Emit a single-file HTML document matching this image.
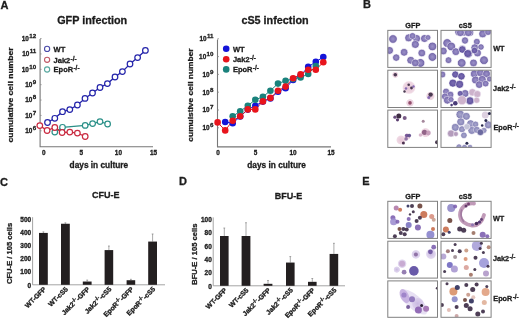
<!DOCTYPE html>
<html><head><meta charset="utf-8"><style>
html,body{margin:0;padding:0;background:#fff;}
body{width:520px;height:319px;overflow:hidden;}
svg{display:block;will-change:transform;}
text{font-family:"Liberation Sans",sans-serif;font-weight:bold;stroke:#1c1c1c;stroke-width:0.3px;}
</style></head><body>
<svg width="520" height="319" viewBox="0 0 520 319">
<defs>
<radialGradient id="gP" cx="50%" cy="50%" r="50%"><stop offset="0" stop-color="#9a90c8"/><stop offset="0.6" stop-color="#8478b6"/><stop offset="0.88" stop-color="#6c5fa4"/><stop offset="1" stop-color="#6c5fa4" stop-opacity="0.55"/></radialGradient>
<radialGradient id="gD" cx="50%" cy="50%" r="50%"><stop offset="0" stop-color="#7a6cb2"/><stop offset="0.6" stop-color="#6a5ca6"/><stop offset="0.88" stop-color="#564896"/><stop offset="1" stop-color="#564896" stop-opacity="0.55"/></radialGradient>
<radialGradient id="gB" cx="50%" cy="50%" r="50%"><stop offset="0" stop-color="#a8a6cc"/><stop offset="0.65" stop-color="#908ebe"/><stop offset="0.9" stop-color="#7a78ac"/><stop offset="1" stop-color="#7a78ac" stop-opacity="0.5"/></radialGradient>
<filter id="bl" x="-5%" y="-5%" width="110%" height="110%"><feGaussianBlur stdDeviation="0.55"/></filter>
<radialGradient id="gK" cx="50%" cy="50%" r="50%"><stop offset="0" stop-color="#e6c6d6"/><stop offset="0.8" stop-color="#e8c8d8" stop-opacity="0.7"/><stop offset="1" stop-color="#f0d8e4" stop-opacity="0"/></radialGradient>
<radialGradient id="gL" cx="50%" cy="50%" r="50%"><stop offset="0" stop-color="#c8b8e0"/><stop offset="0.8" stop-color="#d4c6e8" stop-opacity="0.7"/><stop offset="1" stop-color="#e4dcf0" stop-opacity="0"/></radialGradient>
</defs>
<text x="0.40" y="8.80" font-size="11" text-anchor="start" fill="#1c1c1c" >A</text>
<text x="363.10" y="8.20" font-size="11" text-anchor="start" fill="#1c1c1c" >B</text>
<text x="0.10" y="186.10" font-size="11" text-anchor="start" fill="#1c1c1c" >C</text>
<text x="179.00" y="184.70" font-size="11" text-anchor="start" fill="#1c1c1c" >D</text>
<text x="362.30" y="184.80" font-size="11" text-anchor="start" fill="#1c1c1c" >E</text>
<text x="57.20" y="24.00" font-size="10.8" text-anchor="start" fill="#1c1c1c" >GFP infection</text>
<path d="M40.1,39 V146.8 H153" fill="none" stroke="#777" stroke-width="1.1"/>
<text x="36.20" y="133.10" font-size="6.4" text-anchor="end" fill="#1c1c1c">10<tspan font-size="6.2" dy="-3.0" dx="0.4">6</tspan></text>
<path d="M40,130.80 h1.6" stroke="#8a8a8a" stroke-width="0.8"/>
<text x="36.20" y="117.73" font-size="6.4" text-anchor="end" fill="#1c1c1c">10<tspan font-size="6.2" dy="-3.0" dx="0.4">7</tspan></text>
<path d="M40,115.43 h1.6" stroke="#8a8a8a" stroke-width="0.8"/>
<text x="36.20" y="102.36" font-size="6.4" text-anchor="end" fill="#1c1c1c">10<tspan font-size="6.2" dy="-3.0" dx="0.4">8</tspan></text>
<path d="M40,100.06 h1.6" stroke="#8a8a8a" stroke-width="0.8"/>
<text x="36.20" y="86.99" font-size="6.4" text-anchor="end" fill="#1c1c1c">10<tspan font-size="6.2" dy="-3.0" dx="0.4">9</tspan></text>
<path d="M40,84.69 h1.6" stroke="#8a8a8a" stroke-width="0.8"/>
<text x="36.20" y="71.62" font-size="6.4" text-anchor="end" fill="#1c1c1c">10<tspan font-size="6.2" dy="-3.0" dx="0.4">10</tspan></text>
<path d="M40,69.32 h1.6" stroke="#8a8a8a" stroke-width="0.8"/>
<text x="36.20" y="56.25" font-size="6.4" text-anchor="end" fill="#1c1c1c">10<tspan font-size="6.2" dy="-3.0" dx="0.4">11</tspan></text>
<path d="M40,53.95 h1.6" stroke="#8a8a8a" stroke-width="0.8"/>
<text x="36.20" y="40.88" font-size="6.4" text-anchor="end" fill="#1c1c1c">10<tspan font-size="6.2" dy="-3.0" dx="0.4">12</tspan></text>
<path d="M40,38.58 h1.6" stroke="#8a8a8a" stroke-width="0.8"/>
<text x="43.90" y="154.80" font-size="6.4" text-anchor="middle" fill="#1c1c1c" >0</text>
<text x="81.40" y="154.80" font-size="6.4" text-anchor="middle" fill="#1c1c1c" >5</text>
<text x="118.40" y="154.80" font-size="6.4" text-anchor="middle" fill="#1c1c1c" >10</text>
<text x="153.60" y="154.80" font-size="6.4" text-anchor="middle" fill="#1c1c1c" >15</text>
<text x="69.60" y="168.00" font-size="8.3" text-anchor="start" fill="#1c1c1c" >days in culture</text>
<text transform="translate(13.4,95.0) rotate(-90) scale(1.02,0.9)" font-size="8.4" text-anchor="middle" fill="#1c1c1c">cumulative cell number</text>
<path d="M54.8,132.1 L62.5,127.3 L85.2,125.4 L92.6,123.6 L100.0,121.6 L107.6,124.0" fill="none" stroke="#2a9088" stroke-width="1.3"/>
<path d="M39.8,125.6 L47.1,130.5 L54.8,127.5 L62.1,132.5 L69.8,132.1 L77.4,133.1 L85.2,136.5" fill="none" stroke="#c92a40" stroke-width="1.3"/>
<path d="M47.5,122.5 L54.8,118.3 L62.5,111.7 L69.8,109.6 L77.4,105.0 L85.0,98.4 L92.5,93.0 L100.0,87.5 L107.4,83.6 L115.0,77.0 L122.4,71.6 L130.0,64.0 L137.6,57.6 L145.4,50.4" fill="none" stroke="#2424aa" stroke-width="1.3"/>
<circle cx="54.8" cy="132.1" r="2.8" fill="#fff" stroke="#2a9088" stroke-width="1.2"/>
<circle cx="62.5" cy="127.3" r="2.8" fill="#fff" stroke="#2a9088" stroke-width="1.2"/>
<circle cx="85.2" cy="125.4" r="2.8" fill="#fff" stroke="#2a9088" stroke-width="1.2"/>
<circle cx="92.6" cy="123.6" r="2.8" fill="#fff" stroke="#2a9088" stroke-width="1.2"/>
<circle cx="100.0" cy="121.6" r="2.8" fill="#fff" stroke="#2a9088" stroke-width="1.2"/>
<circle cx="107.6" cy="124.0" r="2.8" fill="#fff" stroke="#2a9088" stroke-width="1.2"/>
<circle cx="39.8" cy="125.6" r="2.8" fill="#fff" stroke="#c92a40" stroke-width="1.2"/>
<circle cx="47.1" cy="130.5" r="2.8" fill="#fff" stroke="#c92a40" stroke-width="1.2"/>
<circle cx="54.8" cy="127.5" r="2.8" fill="#fff" stroke="#c92a40" stroke-width="1.2"/>
<circle cx="62.1" cy="132.5" r="2.8" fill="#fff" stroke="#c92a40" stroke-width="1.2"/>
<circle cx="69.8" cy="132.1" r="2.8" fill="#fff" stroke="#c92a40" stroke-width="1.2"/>
<circle cx="77.4" cy="133.1" r="2.8" fill="#fff" stroke="#c92a40" stroke-width="1.2"/>
<circle cx="85.2" cy="136.5" r="2.8" fill="#fff" stroke="#c92a40" stroke-width="1.2"/>
<circle cx="47.5" cy="122.5" r="2.8" fill="#fff" stroke="#2424aa" stroke-width="1.2"/>
<circle cx="54.8" cy="118.3" r="2.8" fill="#fff" stroke="#2424aa" stroke-width="1.2"/>
<circle cx="62.5" cy="111.7" r="2.8" fill="#fff" stroke="#2424aa" stroke-width="1.2"/>
<circle cx="69.8" cy="109.6" r="2.8" fill="#fff" stroke="#2424aa" stroke-width="1.2"/>
<circle cx="77.4" cy="105.0" r="2.8" fill="#fff" stroke="#2424aa" stroke-width="1.2"/>
<circle cx="85.0" cy="98.4" r="2.8" fill="#fff" stroke="#2424aa" stroke-width="1.2"/>
<circle cx="92.5" cy="93.0" r="2.8" fill="#fff" stroke="#2424aa" stroke-width="1.2"/>
<circle cx="100.0" cy="87.5" r="2.8" fill="#fff" stroke="#2424aa" stroke-width="1.2"/>
<circle cx="107.4" cy="83.6" r="2.8" fill="#fff" stroke="#2424aa" stroke-width="1.2"/>
<circle cx="115.0" cy="77.0" r="2.8" fill="#fff" stroke="#2424aa" stroke-width="1.2"/>
<circle cx="122.4" cy="71.6" r="2.8" fill="#fff" stroke="#2424aa" stroke-width="1.2"/>
<circle cx="130.0" cy="64.0" r="2.8" fill="#fff" stroke="#2424aa" stroke-width="1.2"/>
<circle cx="137.6" cy="57.6" r="2.8" fill="#fff" stroke="#2424aa" stroke-width="1.2"/>
<circle cx="145.4" cy="50.4" r="2.8" fill="#fff" stroke="#2424aa" stroke-width="1.2"/>
<circle cx="47.1" cy="48.9" r="2.6" fill="#fff" stroke="#4a4aa8" stroke-width="1.1"/>
<text x="53.6" y="51.60" font-size="7.5" fill="#1c1c1c">WT</text>
<circle cx="47.1" cy="59.8" r="2.6" fill="#fff" stroke="#c05a68" stroke-width="1.1"/>
<text x="53.6" y="62.50" font-size="7.5" fill="#1c1c1c">Jak2<tspan font-size="6.4" dy="-1.9" dx="0.3">-/-</tspan></text>
<circle cx="47.1" cy="69.5" r="2.6" fill="#fff" stroke="#58a8a0" stroke-width="1.1"/>
<text x="53.6" y="72.20" font-size="7.5" fill="#1c1c1c">EpoR<tspan font-size="6.4" dy="-1.9" dx="0.3">-/-</tspan></text>
<text x="241.40" y="23.80" font-size="10.8" text-anchor="start" fill="#1c1c1c" >cS5 infection</text>
<path d="M217.5,39.4 V146.9 H331" fill="none" stroke="#777" stroke-width="1.1"/>
<text x="213.50" y="130.10" font-size="6.4" text-anchor="end" fill="#1c1c1c">10<tspan font-size="6.2" dy="-3.0" dx="0.4">6</tspan></text>
<path d="M217.4,127.80 h1.6" stroke="#8a8a8a" stroke-width="0.8"/>
<text x="213.50" y="112.30" font-size="6.4" text-anchor="end" fill="#1c1c1c">10<tspan font-size="6.2" dy="-3.0" dx="0.4">7</tspan></text>
<path d="M217.4,110.00 h1.6" stroke="#8a8a8a" stroke-width="0.8"/>
<text x="213.50" y="94.50" font-size="6.4" text-anchor="end" fill="#1c1c1c">10<tspan font-size="6.2" dy="-3.0" dx="0.4">8</tspan></text>
<path d="M217.4,92.20 h1.6" stroke="#8a8a8a" stroke-width="0.8"/>
<text x="213.50" y="76.70" font-size="6.4" text-anchor="end" fill="#1c1c1c">10<tspan font-size="6.2" dy="-3.0" dx="0.4">9</tspan></text>
<path d="M217.4,74.40 h1.6" stroke="#8a8a8a" stroke-width="0.8"/>
<text x="213.50" y="58.90" font-size="6.4" text-anchor="end" fill="#1c1c1c">10<tspan font-size="6.2" dy="-3.0" dx="0.4">10</tspan></text>
<path d="M217.4,56.60 h1.6" stroke="#8a8a8a" stroke-width="0.8"/>
<text x="213.50" y="41.10" font-size="6.4" text-anchor="end" fill="#1c1c1c">10<tspan font-size="6.2" dy="-3.0" dx="0.4">11</tspan></text>
<path d="M217.4,38.80 h1.6" stroke="#8a8a8a" stroke-width="0.8"/>
<text x="218.00" y="154.80" font-size="6.4" text-anchor="middle" fill="#1c1c1c" >0</text>
<text x="255.50" y="154.80" font-size="6.4" text-anchor="middle" fill="#1c1c1c" >5</text>
<text x="293.00" y="154.80" font-size="6.4" text-anchor="middle" fill="#1c1c1c" >10</text>
<text x="331.00" y="154.80" font-size="6.4" text-anchor="middle" fill="#1c1c1c" >15</text>
<text x="247.30" y="167.90" font-size="8.3" text-anchor="start" fill="#1c1c1c" >days in culture</text>
<text transform="translate(192.6,95.0) rotate(-90) scale(1.0,0.9)" font-size="8.4" text-anchor="middle" fill="#1c1c1c">cumulstive cell number</text>
<path d="M225.2,122.0 L232.7,123.2 L240.2,116.5 L247.8,109.6 L255.3,105.7 L262.9,101.6 L270.4,98.4 L278.0,91.7 L285.6,88.2 L293.1,80.0 L300.6,75.5 L308.2,66.9 L315.8,61.8 L323.3,57.0" fill="none" stroke="#1414d8" stroke-width="1.0"/>
<path d="M232.7,116.3 L240.2,111.3 L247.8,105.7 L255.3,99.8 L262.9,96.8 L270.4,90.7 L278.0,83.6 L285.6,80.7 L293.1,79.0 L300.6,77.5 L308.2,74.0 L315.8,66.0" fill="none" stroke="#1a827c" stroke-width="1.0"/>
<path d="M217.6,122.4 L225.2,130.4 L232.7,120.7 L240.2,116.3 L247.8,109.4 L255.3,109.4 L262.9,101.4 L270.4,97.9 L278.0,90.7 L285.6,86.6 L293.1,78.3 L300.6,74.4 L308.2,69.7 L315.8,69.7 L323.3,62.3" fill="none" stroke="#e8141c" stroke-width="1.0"/>
<circle cx="225.2" cy="122.0" r="3.3" fill="#1414d8"/>
<circle cx="232.7" cy="123.2" r="3.3" fill="#1414d8"/>
<circle cx="240.2" cy="116.5" r="3.3" fill="#1414d8"/>
<circle cx="247.8" cy="109.6" r="3.3" fill="#1414d8"/>
<circle cx="255.3" cy="105.7" r="3.3" fill="#1414d8"/>
<circle cx="262.9" cy="101.6" r="3.3" fill="#1414d8"/>
<circle cx="270.4" cy="98.4" r="3.3" fill="#1414d8"/>
<circle cx="278.0" cy="91.7" r="3.3" fill="#1414d8"/>
<circle cx="285.6" cy="88.2" r="3.3" fill="#1414d8"/>
<circle cx="293.1" cy="80.0" r="3.3" fill="#1414d8"/>
<circle cx="300.6" cy="75.5" r="3.3" fill="#1414d8"/>
<circle cx="308.2" cy="66.9" r="3.3" fill="#1414d8"/>
<circle cx="315.8" cy="61.8" r="3.3" fill="#1414d8"/>
<circle cx="323.3" cy="57.0" r="3.3" fill="#1414d8"/>
<circle cx="232.7" cy="116.3" r="3.3" fill="#1a827c"/>
<circle cx="240.2" cy="111.3" r="3.3" fill="#1a827c"/>
<circle cx="247.8" cy="105.7" r="3.3" fill="#1a827c"/>
<circle cx="255.3" cy="99.8" r="3.3" fill="#1a827c"/>
<circle cx="262.9" cy="96.8" r="3.3" fill="#1a827c"/>
<circle cx="270.4" cy="90.7" r="3.3" fill="#1a827c"/>
<circle cx="278.0" cy="83.6" r="3.3" fill="#1a827c"/>
<circle cx="285.6" cy="80.7" r="3.3" fill="#1a827c"/>
<circle cx="293.1" cy="79.0" r="3.3" fill="#1a827c"/>
<circle cx="300.6" cy="77.5" r="3.3" fill="#1a827c"/>
<circle cx="308.2" cy="74.0" r="3.3" fill="#1a827c"/>
<circle cx="315.8" cy="66.0" r="3.3" fill="#1a827c"/>
<circle cx="217.6" cy="122.4" r="3.3" fill="#e8141c"/>
<circle cx="225.2" cy="130.4" r="3.3" fill="#e8141c"/>
<circle cx="232.7" cy="120.7" r="3.3" fill="#e8141c"/>
<circle cx="240.2" cy="116.3" r="3.3" fill="#e8141c"/>
<circle cx="247.8" cy="109.4" r="3.3" fill="#e8141c"/>
<circle cx="255.3" cy="109.4" r="3.3" fill="#e8141c"/>
<circle cx="262.9" cy="101.4" r="3.3" fill="#e8141c"/>
<circle cx="270.4" cy="97.9" r="3.3" fill="#e8141c"/>
<circle cx="278.0" cy="90.7" r="3.3" fill="#e8141c"/>
<circle cx="285.6" cy="86.6" r="3.3" fill="#e8141c"/>
<circle cx="293.1" cy="78.3" r="3.3" fill="#e8141c"/>
<circle cx="300.6" cy="74.4" r="3.3" fill="#e8141c"/>
<circle cx="308.2" cy="69.7" r="3.3" fill="#e8141c"/>
<circle cx="315.8" cy="69.7" r="3.3" fill="#e8141c"/>
<circle cx="323.3" cy="62.3" r="3.3" fill="#e8141c"/>
<circle cx="226.2" cy="48.8" r="3.3" fill="#1414d8"/>
<text x="232.9" y="51.60" font-size="7.5" fill="#1c1c1c">WT</text>
<circle cx="226.2" cy="59.2" r="3.3" fill="#e8141c"/>
<text x="232.9" y="62.00" font-size="7.5" fill="#1c1c1c">Jak2<tspan font-size="6.4" dy="-1.9" dx="0.3">-/-</tspan></text>
<circle cx="226.2" cy="69.4" r="3.3" fill="#1a827c"/>
<text x="232.9" y="72.20" font-size="7.5" fill="#1c1c1c">EpoR<tspan font-size="6.4" dy="-1.9" dx="0.3">-/-</tspan></text>
<text x="92.00" y="197.60" font-size="9.0" text-anchor="start" fill="#1c1c1c" >CFU-E</text>
<path d="M32.6,217.2 V284.8 H165" fill="none" stroke="#9a9a9a" stroke-width="0.9"/>
<text x="31.20" y="287.50" font-size="6.5" text-anchor="end" fill="#1c1c1c" >0</text>
<text x="31.20" y="274.40" font-size="6.5" text-anchor="end" fill="#1c1c1c" >100</text>
<text x="31.20" y="261.30" font-size="6.5" text-anchor="end" fill="#1c1c1c" >200</text>
<text x="31.20" y="248.20" font-size="6.5" text-anchor="end" fill="#1c1c1c" >300</text>
<text x="31.20" y="235.10" font-size="6.5" text-anchor="end" fill="#1c1c1c" >400</text>
<text x="31.20" y="222.00" font-size="6.5" text-anchor="end" fill="#1c1c1c" >500</text>
<path d="M43.40,232.92 V231.88 M42.50,231.88 h1.8" stroke="#707070" stroke-width="0.6" fill="none"/>
<rect x="39.0" y="232.92" width="8.80" height="51.88" fill="#231f20"/>
<text transform="translate(46.40,289.70) rotate(-45)" font-size="6.8" text-anchor="end" fill="#1c1c1c">WT-GFP</text>
<path d="M65.40,223.75 V222.84 M64.50,222.84 h1.8" stroke="#707070" stroke-width="0.6" fill="none"/>
<rect x="61.0" y="223.75" width="8.80" height="61.05" fill="#231f20"/>
<text transform="translate(68.40,289.70) rotate(-45)" font-size="6.8" text-anchor="end" fill="#1c1c1c">WT-cS5</text>
<path d="M87.20,281.53 V280.08 M86.30,280.08 h1.8" stroke="#707070" stroke-width="0.6" fill="none"/>
<rect x="82.8" y="281.53" width="8.80" height="3.27" fill="#231f20"/>
<text transform="translate(90.20,289.70) rotate(-45)" font-size="6.8" text-anchor="end" fill="#1c1c1c">Jak2<tspan font-size="5.4" dy="-2.6">-/-</tspan><tspan dy="2.6">-</tspan>GFP</text>
<path d="M108.90,250.09 V246.02 M108.00,246.02 h1.8" stroke="#707070" stroke-width="0.6" fill="none"/>
<rect x="104.6" y="250.09" width="8.60" height="34.72" fill="#231f20"/>
<text transform="translate(111.90,289.70) rotate(-45)" font-size="6.8" text-anchor="end" fill="#1c1c1c">Jak2<tspan font-size="5.4" dy="-2.6">-/-</tspan><tspan dy="2.6">-</tspan>cS5</text>
<path d="M130.90,280.22 V279.30 M130.00,279.30 h1.8" stroke="#707070" stroke-width="0.6" fill="none"/>
<rect x="126.6" y="280.22" width="8.60" height="4.58" fill="#231f20"/>
<text transform="translate(133.90,289.70) rotate(-45)" font-size="6.8" text-anchor="end" fill="#1c1c1c">EpoR<tspan font-size="5.4" dy="-2.6">-/-</tspan><tspan dy="2.6">-</tspan>GFP</text>
<path d="M152.60,241.57 V233.97 M151.70,233.97 h1.8" stroke="#707070" stroke-width="0.6" fill="none"/>
<rect x="148.2" y="241.57" width="8.80" height="43.23" fill="#231f20"/>
<text transform="translate(155.60,289.70) rotate(-45)" font-size="6.8" text-anchor="end" fill="#1c1c1c">EpoR<tspan font-size="5.4" dy="-2.6">-/-</tspan><tspan dy="2.6">-</tspan>cS5</text>
<text transform="translate(12.4,253.4) rotate(-90) scale(1,0.92)" font-size="7.6" text-anchor="middle" fill="#1c1c1c">CFU-E / 105 cells</text>
<text x="274.80" y="199.00" font-size="9.0" text-anchor="start" fill="#1c1c1c" >BFU-E</text>
<path d="M213.2,217.4 V285.8 H345" fill="none" stroke="#9a9a9a" stroke-width="0.9"/>
<text x="211.80" y="288.50" font-size="6.5" text-anchor="end" fill="#1c1c1c" >0</text>
<text x="211.80" y="275.22" font-size="6.5" text-anchor="end" fill="#1c1c1c" >20</text>
<text x="211.80" y="261.94" font-size="6.5" text-anchor="end" fill="#1c1c1c" >40</text>
<text x="211.80" y="248.66" font-size="6.5" text-anchor="end" fill="#1c1c1c" >60</text>
<text x="211.80" y="235.38" font-size="6.5" text-anchor="end" fill="#1c1c1c" >80</text>
<text x="211.80" y="222.10" font-size="6.5" text-anchor="end" fill="#1c1c1c" >100</text>
<path d="M224.30,236.00 V228.03 M223.40,228.03 h1.8" stroke="#707070" stroke-width="0.6" fill="none"/>
<rect x="220.0" y="236.00" width="8.60" height="49.80" fill="#231f20"/>
<text transform="translate(227.30,290.70) rotate(-45)" font-size="6.8" text-anchor="end" fill="#1c1c1c">WT-GFP</text>
<path d="M246.00,236.00 V222.72 M245.10,222.72 h1.8" stroke="#707070" stroke-width="0.6" fill="none"/>
<rect x="241.6" y="236.00" width="8.80" height="49.80" fill="#231f20"/>
<text transform="translate(249.00,290.70) rotate(-45)" font-size="6.8" text-anchor="end" fill="#1c1c1c">WT-cS5</text>
<path d="M268.00,283.81 V280.49 M267.10,280.49 h1.8" stroke="#707070" stroke-width="0.6" fill="none"/>
<rect x="263.6" y="283.81" width="8.80" height="1.99" fill="#231f20"/>
<text transform="translate(271.00,290.70) rotate(-45)" font-size="6.8" text-anchor="end" fill="#1c1c1c">Jak2<tspan font-size="5.4" dy="-2.6">-/-</tspan><tspan dy="2.6">-</tspan>GFP</text>
<path d="M290.30,262.56 V256.58 M289.40,256.58 h1.8" stroke="#707070" stroke-width="0.6" fill="none"/>
<rect x="286.0" y="262.56" width="8.60" height="23.24" fill="#231f20"/>
<text transform="translate(293.30,290.70) rotate(-45)" font-size="6.8" text-anchor="end" fill="#1c1c1c">Jak2<tspan font-size="5.4" dy="-2.6">-/-</tspan><tspan dy="2.6">-</tspan>cS5</text>
<path d="M312.30,281.82 V278.50 M311.40,278.50 h1.8" stroke="#707070" stroke-width="0.6" fill="none"/>
<rect x="308.0" y="281.82" width="8.60" height="3.98" fill="#231f20"/>
<text transform="translate(315.30,290.70) rotate(-45)" font-size="6.8" text-anchor="end" fill="#1c1c1c">EpoR<tspan font-size="5.4" dy="-2.6">-/-</tspan><tspan dy="2.6">-</tspan>GFP</text>
<path d="M333.90,253.93 V243.30 M333.00,243.30 h1.8" stroke="#707070" stroke-width="0.6" fill="none"/>
<rect x="329.6" y="253.93" width="8.60" height="31.87" fill="#231f20"/>
<text transform="translate(336.90,290.70) rotate(-45)" font-size="6.8" text-anchor="end" fill="#1c1c1c">EpoR<tspan font-size="5.4" dy="-2.6">-/-</tspan><tspan dy="2.6">-</tspan>cS5</text>
<text transform="translate(196.9,254.2) rotate(-90) scale(1,0.92)" font-size="7.6" text-anchor="middle" fill="#1c1c1c">BFU-E / 105 cells</text>
<text x="405.30" y="28.00" font-size="7.3" text-anchor="start" fill="#1c1c1c" >GFP</text>
<text x="458.80" y="28.00" font-size="7.3" text-anchor="start" fill="#1c1c1c" >cS5</text>
<text x="493.20" y="50.80" font-size="7.3" text-anchor="start" fill="#1c1c1c" >WT</text>
<text x="493.1" y="90.6" font-size="7.3" fill="#1c1c1c">Jak2<tspan font-size="6.4" dy="-1.9" dx="0.3">-/-</tspan></text>
<text x="493.4" y="130.2" font-size="7.3" fill="#1c1c1c">EpoR<tspan font-size="6.4" dy="-1.9" dx="0.3">-/-</tspan></text>
<text x="405.30" y="199.10" font-size="7.3" text-anchor="start" fill="#1c1c1c" >GFP</text>
<text x="458.80" y="199.10" font-size="7.3" text-anchor="start" fill="#1c1c1c" >cS5</text>
<text x="492.90" y="221.30" font-size="7.3" text-anchor="start" fill="#1c1c1c" >WT</text>
<text x="492.9" y="261.1" font-size="7.3" fill="#1c1c1c">Jak2<tspan font-size="6.4" dy="-1.9" dx="0.3">-/-</tspan></text>
<text x="493.3" y="300.8" font-size="7.3" fill="#1c1c1c">EpoR<tspan font-size="6.4" dy="-1.9" dx="0.3">-/-</tspan></text>
<clipPath id="c1"><rect x="387.8" y="30.35" width="49.70" height="37.05"/></clipPath>
<rect x="387.8" y="30.35" width="49.70" height="37.05" fill="#ffffff"/>
<g clip-path="url(#c1)"><g filter="url(#bl)">
<circle cx="393.0" cy="39.0" r="4.15" fill="url(#gP)" opacity="1.0" stroke="#f4f0fa" stroke-width="0.55"/>
<circle cx="408.7" cy="37.9" r="3.85" fill="url(#gP)" opacity="1.0" stroke="#f4f0fa" stroke-width="0.55"/>
<circle cx="416.6" cy="38.5" r="3.85" fill="url(#gP)" opacity="1.0" stroke="#f4f0fa" stroke-width="0.55"/>
<circle cx="424.5" cy="38.5" r="3.85" fill="url(#gP)" opacity="1.0" stroke="#f4f0fa" stroke-width="0.55"/>
<circle cx="412.5" cy="36.0" r="3.25" fill="url(#gP)" opacity="1.0" stroke="#f4f0fa" stroke-width="0.55"/>
<circle cx="415.3" cy="44.4" r="3.85" fill="url(#gP)" opacity="1.0" stroke="#f4f0fa" stroke-width="0.55"/>
<circle cx="432.4" cy="46.4" r="4.25" fill="url(#gP)" opacity="1.0" stroke="#f4f0fa" stroke-width="0.55"/>
<circle cx="389.6" cy="50.4" r="3.75" fill="url(#gP)" opacity="1.0" stroke="#f4f0fa" stroke-width="0.55"/>
<circle cx="404.1" cy="52.3" r="3.75" fill="url(#gP)" opacity="1.0" stroke="#f4f0fa" stroke-width="0.55"/>
<circle cx="421.8" cy="53.0" r="3.75" fill="url(#gP)" opacity="1.0" stroke="#f4f0fa" stroke-width="0.55"/>
<circle cx="432.4" cy="56.9" r="4.25" fill="url(#gP)" opacity="1.0" stroke="#f4f0fa" stroke-width="0.55"/>
<circle cx="396.2" cy="57.6" r="3.55" fill="url(#gP)" opacity="1.0" stroke="#f4f0fa" stroke-width="0.55"/>
<circle cx="410.7" cy="60.2" r="3.75" fill="url(#gP)" opacity="1.0" stroke="#f4f0fa" stroke-width="0.55"/>
<circle cx="420.5" cy="62.9" r="4.25" fill="url(#gP)" opacity="1.0" stroke="#f4f0fa" stroke-width="0.55"/>
<circle cx="415.3" cy="62.9" r="3.75" fill="url(#gP)" opacity="1.0" stroke="#f4f0fa" stroke-width="0.55"/>
<circle cx="428.0" cy="37.5" r="2.75" fill="url(#gP)" opacity="1.0" stroke="#f4f0fa" stroke-width="0.55"/>
</g></g>
<rect x="387.8" y="30.35" width="49.70" height="37.05" fill="none" stroke="#808080" stroke-width="1"/>
<clipPath id="c2"><rect x="441.0" y="30.35" width="50.10" height="37.05"/></clipPath>
<rect x="441.0" y="30.35" width="50.10" height="37.05" fill="#ffffff"/>
<g clip-path="url(#c2)"><g filter="url(#bl)">
<circle cx="458.5" cy="32.0" r="3.65" fill="url(#gP)" opacity="1.0" stroke="#f4f0fa" stroke-width="0.55"/>
<circle cx="464.0" cy="32.3" r="3.65" fill="url(#gP)" opacity="1.0" stroke="#f4f0fa" stroke-width="0.55"/>
<circle cx="470.0" cy="32.6" r="3.65" fill="url(#gP)" opacity="1.0" stroke="#f4f0fa" stroke-width="0.55"/>
<circle cx="460.4" cy="32.6" r="3.85" fill="url(#gP)" opacity="1.0" stroke="#f4f0fa" stroke-width="0.55"/>
<circle cx="468.3" cy="32.6" r="3.85" fill="url(#gP)" opacity="1.0" stroke="#f4f0fa" stroke-width="0.55"/>
<circle cx="482.7" cy="33.9" r="3.85" fill="url(#gP)" opacity="1.0" stroke="#f4f0fa" stroke-width="0.55"/>
<circle cx="488.0" cy="32.0" r="3.25" fill="url(#gP)" opacity="1.0" stroke="#f4f0fa" stroke-width="0.55"/>
<circle cx="465.0" cy="40.5" r="3.45" fill="url(#gP)" opacity="1.0" stroke="#f4f0fa" stroke-width="0.55"/>
<circle cx="476.8" cy="41.8" r="3.25" fill="url(#gP)" opacity="1.0" stroke="#f4f0fa" stroke-width="0.55"/>
<circle cx="447.2" cy="43.1" r="4.25" fill="url(#gP)" opacity="1.0" stroke="#f4f0fa" stroke-width="0.55"/>
<circle cx="451.2" cy="46.4" r="4.25" fill="url(#gP)" opacity="1.0" stroke="#f4f0fa" stroke-width="0.55"/>
<circle cx="443.3" cy="51.0" r="3.75" fill="url(#gP)" opacity="1.0" stroke="#f4f0fa" stroke-width="0.55"/>
<circle cx="455.8" cy="51.7" r="3.75" fill="url(#gP)" opacity="1.0" stroke="#f4f0fa" stroke-width="0.55"/>
<circle cx="462.3" cy="49.0" r="3.75" fill="url(#gP)" opacity="1.0" stroke="#f4f0fa" stroke-width="0.55"/>
<circle cx="468.3" cy="53.7" r="4.25" fill="url(#gP)" opacity="1.0" stroke="#f4f0fa" stroke-width="0.55"/>
<circle cx="474.8" cy="47.7" r="3.75" fill="url(#gP)" opacity="1.0" stroke="#f4f0fa" stroke-width="0.55"/>
<circle cx="477.5" cy="53.0" r="3.75" fill="url(#gP)" opacity="1.0" stroke="#f4f0fa" stroke-width="0.55"/>
<circle cx="448.5" cy="60.2" r="3.25" fill="url(#gP)" opacity="1.0" stroke="#f4f0fa" stroke-width="0.55"/>
<circle cx="461.7" cy="62.9" r="4.25" fill="url(#gP)" opacity="1.0" stroke="#f4f0fa" stroke-width="0.55"/>
<circle cx="473.5" cy="62.9" r="3.75" fill="url(#gP)" opacity="1.0" stroke="#f4f0fa" stroke-width="0.55"/>
<circle cx="484.0" cy="60.2" r="4.25" fill="url(#gP)" opacity="1.0" stroke="#f4f0fa" stroke-width="0.55"/>
<circle cx="481" cy="47" r="3.05" fill="url(#gP)" opacity="1.0" stroke="#f4f0fa" stroke-width="0.55"/>
<circle cx="462.3" cy="49.5" r="3.6" fill="url(#gD)" opacity="1.0" stroke="#f4f0fa" stroke-width="0.55"/>
<circle cx="467.8" cy="53.6" r="3.9" fill="url(#gD)" opacity="1.0" stroke="#f4f0fa" stroke-width="0.55"/>
<circle cx="474.5" cy="50.5" r="3.2" fill="url(#gD)" opacity="1.0" stroke="#f4f0fa" stroke-width="0.55"/>
</g></g>
<rect x="441.0" y="30.35" width="50.10" height="37.05" fill="none" stroke="#808080" stroke-width="1"/>
<clipPath id="c3"><rect x="387.8" y="70.2" width="49.70" height="37.30"/></clipPath>
<rect x="387.8" y="70.2" width="49.70" height="37.30" fill="#ffffff"/>
<g clip-path="url(#c3)"><g filter="url(#bl)">
<circle cx="395.3" cy="74.8" r="3.4" fill="url(#gK)" opacity="1.0"/>
<circle cx="409.0" cy="87.5" r="7.0" fill="url(#gK)" opacity="1.0"/>
<circle cx="430.4" cy="96.0" r="4.6" fill="url(#gK)" opacity="1.0"/>
<circle cx="410.0" cy="102.9" r="4.2" fill="url(#gK)" opacity="1.0"/>
<circle cx="395.3" cy="74.8" r="1.8" fill="#3a2a44" opacity="0.9"/>
<circle cx="408.7" cy="84.8" r="1.3" fill="#3a2a44" opacity="0.9"/>
<circle cx="406.0" cy="88.5" r="1.3" fill="#7e62b0" opacity="0.9"/>
<circle cx="411.5" cy="88.0" r="1.4" fill="#3a2a44" opacity="0.9"/>
<circle cx="413.5" cy="86.5" r="1.2" fill="#7e62b0" opacity="0.9"/>
<circle cx="404.5" cy="91.5" r="1.2" fill="#3a2a44" opacity="0.9"/>
<circle cx="430.6" cy="94.6" r="2.2" fill="#3a2a44" opacity="0.9"/>
<circle cx="428.8" cy="97.5" r="1.5" fill="#7e62b0" opacity="0.9"/>
<circle cx="410.0" cy="102.9" r="1.8" fill="#8a4060" opacity="0.9"/>
</g></g>
<rect x="387.8" y="70.2" width="49.70" height="37.30" fill="none" stroke="#808080" stroke-width="1"/>
<clipPath id="c4"><rect x="441.0" y="70.2" width="50.10" height="37.30"/></clipPath>
<rect x="441.0" y="70.2" width="50.10" height="37.30" fill="#ffffff"/>
<g clip-path="url(#c4)"><g filter="url(#bl)">
<circle cx="442.4" cy="74.5" r="3.25" fill="url(#gP)" opacity="1.0" stroke="#f4f0fa" stroke-width="0.55"/>
<circle cx="474.3" cy="73.9" r="3.85" fill="url(#gP)" opacity="1.0" stroke="#f4f0fa" stroke-width="0.55"/>
<circle cx="480.4" cy="72.7" r="3.85" fill="url(#gP)" opacity="1.0" stroke="#f4f0fa" stroke-width="0.55"/>
<circle cx="486.5" cy="73.9" r="3.85" fill="url(#gP)" opacity="1.0" stroke="#f4f0fa" stroke-width="0.55"/>
<circle cx="475.5" cy="80.0" r="3.85" fill="url(#gP)" opacity="1.0" stroke="#f4f0fa" stroke-width="0.55"/>
<circle cx="482.2" cy="79.4" r="3.85" fill="url(#gP)" opacity="1.0" stroke="#f4f0fa" stroke-width="0.55"/>
<circle cx="479.2" cy="84.6" r="3.65" fill="url(#gP)" opacity="1.0" stroke="#f4f0fa" stroke-width="0.55"/>
<circle cx="485.6" cy="83.6" r="3.25" fill="url(#gP)" opacity="1.0" stroke="#f4f0fa" stroke-width="0.55"/>
<circle cx="489.5" cy="79.0" r="2.85" fill="url(#gP)" opacity="1.0" stroke="#f4f0fa" stroke-width="0.55"/>
<circle cx="446.1" cy="91.6" r="3.35" fill="url(#gP)" opacity="1.0" stroke="#f4f0fa" stroke-width="0.55"/>
<circle cx="450.4" cy="94.7" r="3.35" fill="url(#gP)" opacity="1.0" stroke="#f4f0fa" stroke-width="0.55"/>
<circle cx="444.9" cy="96.5" r="3.35" fill="url(#gP)" opacity="1.0" stroke="#f4f0fa" stroke-width="0.55"/>
<circle cx="447.3" cy="100.2" r="3.75" fill="url(#gP)" opacity="1.0" stroke="#f4f0fa" stroke-width="0.55"/>
<circle cx="451.0" cy="99.5" r="2.85" fill="url(#gP)" opacity="1.0" stroke="#f4f0fa" stroke-width="0.55"/>
<circle cx="465.1" cy="93.5" r="3.75" fill="url(#gP)" opacity="1.0" stroke="#f4f0fa" stroke-width="0.55"/>
<circle cx="470.0" cy="100.8" r="4.25" fill="url(#gP)" opacity="1.0" stroke="#f4f0fa" stroke-width="0.55"/>
<circle cx="455.3" cy="74.5" r="3.45" fill="url(#gD)" opacity="1.0" stroke="#f4f0fa" stroke-width="0.55"/>
<circle cx="461.4" cy="76.3" r="3.65" fill="url(#gD)" opacity="1.0" stroke="#f4f0fa" stroke-width="0.55"/>
<circle cx="452.9" cy="83.1" r="3.95" fill="url(#gD)" opacity="1.0" stroke="#f4f0fa" stroke-width="0.55"/>
<circle cx="459.6" cy="84.3" r="3.95" fill="url(#gD)" opacity="1.0" stroke="#f4f0fa" stroke-width="0.55"/>
<circle cx="460.2" cy="93.5" r="2.85" fill="url(#gD)" opacity="1.0" stroke="#f4f0fa" stroke-width="0.55"/>
<circle cx="470.0" cy="100.8" r="3.85" fill="url(#gD)" opacity="1.0" stroke="#f4f0fa" stroke-width="0.55"/>
<circle cx="472.4" cy="92.3" r="3.6" fill="#cdb2cc" opacity="1.0" stroke="#f4f0fa" stroke-width="0.55"/>
<circle cx="477.3" cy="94.1" r="3.5" fill="#cdb2cc" opacity="1.0" stroke="#f4f0fa" stroke-width="0.55"/>
<circle cx="462.0" cy="100.2" r="4.5" fill="#cdb2cc" opacity="1.0" stroke="#f4f0fa" stroke-width="0.55"/>
<circle cx="476.7" cy="100.2" r="3.0" fill="#cdb2cc" opacity="1.0" stroke="#f4f0fa" stroke-width="0.55"/>
<circle cx="455.3" cy="103.3" r="2.3" fill="#4a3a78" opacity="1.0"/>
<circle cx="451.6" cy="105.1" r="1.3" fill="#4a3a78" opacity="1.0"/>
</g></g>
<rect x="441.0" y="70.2" width="50.10" height="37.30" fill="none" stroke="#808080" stroke-width="1"/>
<clipPath id="c5"><rect x="387.8" y="110.1" width="49.70" height="37.30"/></clipPath>
<rect x="387.8" y="110.1" width="49.70" height="37.30" fill="#ffffff"/>
<g clip-path="url(#c5)"><g filter="url(#bl)">
<circle cx="425.5" cy="132.6" r="5.0" fill="url(#gK)" opacity="1.0"/>
<circle cx="401.0" cy="140.0" r="5.0" fill="url(#gK)" opacity="1.0"/>
<circle cx="407.5" cy="136.5" r="3.5" fill="url(#gK)" opacity="1.0"/>
<circle cx="398.8" cy="115.9" r="2.5" fill="#2a1430" opacity="0.9"/>
<circle cx="394.9" cy="117.2" r="1.6" fill="#5a3a70" opacity="0.9"/>
<circle cx="397.5" cy="119.8" r="1.6" fill="#4a2a60" opacity="0.9"/>
<circle cx="404.7" cy="117.9" r="2.0" fill="#6a4a7a" opacity="0.9"/>
<circle cx="423.2" cy="121.2" r="1.5" fill="#9a7a90" opacity="0.9"/>
<circle cx="424.5" cy="132.3" r="2.6" fill="#8a5a80" opacity="0.9"/>
<circle cx="428.4" cy="133.0" r="2.4" fill="#c49ab8" opacity="0.9"/>
<circle cx="420.5" cy="135.0" r="1.8" fill="#d4b0c8" opacity="0.9"/>
<circle cx="406.7" cy="135.6" r="1.8" fill="#6a4a90" opacity="0.9"/>
<circle cx="409.3" cy="135.6" r="1.8" fill="#5a4a8a" opacity="0.9"/>
<circle cx="406.1" cy="138.9" r="1.8" fill="#8a6aa0" opacity="0.9"/>
<circle cx="403.4" cy="142.9" r="1.5" fill="#3a2040" opacity="0.9"/>
<circle cx="437.0" cy="142.2" r="2.0" fill="#3a2a40" opacity="0.9"/>
</g></g>
<rect x="387.8" y="110.1" width="49.70" height="37.30" fill="none" stroke="#808080" stroke-width="1"/>
<clipPath id="c6"><rect x="441.0" y="110.1" width="50.10" height="37.30"/></clipPath>
<rect x="441.0" y="110.1" width="50.10" height="37.30" fill="#ffffff"/>
<g clip-path="url(#c6)"><g filter="url(#bl)">
<circle cx="460.2" cy="114.5" r="4.1" fill="url(#gB)" opacity="1.0" stroke="#f4f0fa" stroke-width="0.55"/>
<circle cx="466.3" cy="116.3" r="3.8" fill="url(#gB)" opacity="1.0" stroke="#f4f0fa" stroke-width="0.55"/>
<circle cx="460.8" cy="121.9" r="3.9" fill="url(#gB)" opacity="1.0" stroke="#f4f0fa" stroke-width="0.55"/>
<circle cx="455.3" cy="127.4" r="3.8" fill="url(#gB)" opacity="1.0" stroke="#f4f0fa" stroke-width="0.55"/>
<circle cx="462.0" cy="129.2" r="3.3" fill="url(#gB)" opacity="1.0" stroke="#f4f0fa" stroke-width="0.55"/>
<circle cx="470.6" cy="123.7" r="3.8" fill="url(#gB)" opacity="1.0" stroke="#f4f0fa" stroke-width="0.55"/>
<circle cx="475.5" cy="124.3" r="3.0999999999999996" fill="url(#gB)" opacity="1.0" stroke="#f4f0fa" stroke-width="0.55"/>
<circle cx="471.8" cy="130.4" r="3.8" fill="url(#gB)" opacity="1.0" stroke="#f4f0fa" stroke-width="0.55"/>
<circle cx="476.7" cy="129.8" r="3.3" fill="url(#gB)" opacity="1.0" stroke="#f4f0fa" stroke-width="0.55"/>
<circle cx="484.0" cy="130.4" r="2.8" fill="url(#gB)" opacity="1.0" stroke="#f4f0fa" stroke-width="0.55"/>
<circle cx="488.3" cy="124.9" r="3.8" fill="url(#gB)" opacity="1.0" stroke="#f4f0fa" stroke-width="0.55"/>
<circle cx="463.9" cy="135.3" r="3.0999999999999996" fill="url(#gB)" opacity="1.0" stroke="#f4f0fa" stroke-width="0.55"/>
<circle cx="459.0" cy="147.0" r="2.9" fill="url(#gB)" opacity="1.0" stroke="#f4f0fa" stroke-width="0.55"/>
<circle cx="464.5" cy="147.2" r="2.6999999999999997" fill="url(#gB)" opacity="1.0" stroke="#f4f0fa" stroke-width="0.55"/>
<circle cx="470.0" cy="147.0" r="2.5" fill="url(#gB)" opacity="1.0" stroke="#f4f0fa" stroke-width="0.55"/>
<circle cx="480.4" cy="132.3" r="3.3" fill="#6c6aa0" opacity="1.0" stroke="#f4f0fa" stroke-width="0.55"/>
<circle cx="466.9" cy="126.7" r="3.0" fill="#c4c4d8" opacity="1.0" stroke="#f4f0fa" stroke-width="0.55"/>
<circle cx="451.0" cy="133.5" r="3.5" fill="#b49cbc" opacity="1.0" stroke="#f4f0fa" stroke-width="0.55"/>
<circle cx="455.9" cy="134.0" r="2.4" fill="#b49cbc" opacity="1.0" stroke="#f4f0fa" stroke-width="0.55"/>
<circle cx="485.3" cy="115.1" r="3.5" fill="#ddd0e0" opacity="1.0"/>
<circle cx="485.9" cy="120.6" r="1.5" fill="#2c2c50" opacity="1.0"/>
<circle cx="482.2" cy="125.5" r="1.3" fill="#2c2c50" opacity="1.0"/>
<circle cx="466.9" cy="143.3" r="1.5" fill="#2c2c50" opacity="1.0"/>
<circle cx="489.5" cy="113.5" r="1.6" fill="#2c2c50" opacity="1.0"/>
</g></g>
<rect x="441.0" y="110.1" width="50.10" height="37.30" fill="none" stroke="#808080" stroke-width="1"/>
<clipPath id="c7"><rect x="387.8" y="201.3" width="49.70" height="37.10"/></clipPath>
<rect x="387.8" y="201.3" width="49.70" height="37.10" fill="#ffffff"/>
<g clip-path="url(#c7)"><g filter="url(#bl)">
<circle cx="396.2" cy="207.9" r="2.5" fill="#b07aa8" opacity="0.9"/>
<circle cx="400.1" cy="209.8" r="2.0" fill="#c86e4c" opacity="0.9"/>
<circle cx="408.0" cy="205.9" r="1.5" fill="#2c2c5a" opacity="0.9"/>
<circle cx="412.0" cy="205.9" r="2.0" fill="#3a2a44" opacity="0.9"/>
<circle cx="419.9" cy="205.9" r="2.5" fill="#6a4036" opacity="0.9"/>
<circle cx="413.3" cy="211.8" r="1.5" fill="#3a2a44" opacity="0.9"/>
<circle cx="423.8" cy="214.4" r="3.5" fill="#c86e4c" opacity="0.9"/>
<circle cx="431.7" cy="216.4" r="2.5" fill="#d89080" opacity="0.9"/>
<circle cx="433.7" cy="219.7" r="2.0" fill="#c8a090" opacity="0.9"/>
<circle cx="410.0" cy="214.4" r="1.2" fill="#3a2a44" opacity="0.9"/>
<circle cx="392.9" cy="217.7" r="2.5" fill="#7e62b0" opacity="0.9"/>
<circle cx="393.6" cy="221.7" r="3.5" fill="#a090d0" opacity="0.9"/>
<circle cx="397.5" cy="221.7" r="2.0" fill="#7e62b0" opacity="0.9"/>
<circle cx="408.7" cy="219.0" r="2.0" fill="#7e62b0" opacity="0.9"/>
<circle cx="416.6" cy="221.0" r="2.0" fill="#3a2a44" opacity="0.9"/>
<circle cx="419.9" cy="217.7" r="2.0" fill="#3a2a44" opacity="0.9"/>
<circle cx="408.7" cy="225.0" r="3.0" fill="#7c74c0" opacity="0.9"/>
<circle cx="403.4" cy="228.9" r="2.0" fill="#3a2a44" opacity="0.9"/>
<circle cx="406.7" cy="229.6" r="2.0" fill="#3a2a44" opacity="0.9"/>
<circle cx="399.5" cy="228.9" r="2.0" fill="#6a4036" opacity="0.9"/>
<circle cx="417.9" cy="227.6" r="3.0" fill="#7e62b0" opacity="0.9"/>
<circle cx="433.0" cy="228.9" r="2.0" fill="#c86e4c" opacity="0.9"/>
<circle cx="400.8" cy="232.9" r="2.0" fill="#3a2a44" opacity="0.9"/>
<circle cx="404.7" cy="234.2" r="2.0" fill="#3a2a44" opacity="0.9"/>
<circle cx="394.9" cy="236.2" r="2.0" fill="#3a2a44" opacity="0.9"/>
<circle cx="430.4" cy="234.8" r="4.0" fill="#8a84cc" opacity="0.9"/>
</g></g>
<rect x="387.8" y="201.3" width="49.70" height="37.10" fill="none" stroke="#808080" stroke-width="1"/>
<clipPath id="c8"><rect x="441.0" y="201.3" width="50.10" height="37.10"/></clipPath>
<rect x="441.0" y="201.3" width="50.10" height="37.10" fill="#ffffff"/>
<g clip-path="url(#c8)"><g filter="url(#bl)">
<path d="M474,203.5 C466,202.5 460,208 460,215 C460,221 466,225 472,225.5 C478,226 482,222 484,215" fill="none" stroke="#c09ab8" stroke-width="3.8" stroke-linecap="round"/>
<path d="M461.5,210 C460.5,214 461,218 463.5,221.5" fill="none" stroke="#a07aa0" stroke-width="1.6" stroke-linecap="round"/>
<circle cx="451.2" cy="207.9" r="4.0" fill="#9088c8" opacity="0.9"/>
<circle cx="455.1" cy="206.6" r="2.0" fill="#7e62b0" opacity="0.9"/>
<circle cx="466.0" cy="206.0" r="1.5" fill="#5a3060" opacity="0.9"/>
<circle cx="468.5" cy="204.0" r="1.5" fill="#6a3a6a" opacity="0.9"/>
<circle cx="476.5" cy="223.5" r="1.8" fill="#3a2050" opacity="0.9"/>
<circle cx="479.5" cy="222.0" r="1.6" fill="#4a3070" opacity="0.9"/>
<circle cx="472.5" cy="224.8" r="1.5" fill="#8a70b0" opacity="0.9"/>
<circle cx="481.5" cy="219.5" r="1.4" fill="#5a3a70" opacity="0.9"/>
<circle cx="449.8" cy="220.4" r="2.5" fill="#6a4036" opacity="0.9"/>
<circle cx="445.9" cy="229.6" r="3.0" fill="#c86e4c" opacity="0.9"/>
<circle cx="449.2" cy="232.2" r="1.5" fill="#2c2c5a" opacity="0.9"/>
<circle cx="459.7" cy="228.9" r="2.5" fill="#3a2a44" opacity="0.9"/>
<circle cx="463.7" cy="230.2" r="2.5" fill="#3a2a44" opacity="0.9"/>
<circle cx="473.5" cy="232.9" r="2.0" fill="#9a7060" opacity="0.9"/>
<circle cx="443.3" cy="234.2" r="2.0" fill="#3a2a44" opacity="0.9"/>
<circle cx="482.7" cy="234.8" r="3.0" fill="#7e62b0" opacity="0.9"/>
<circle cx="487.3" cy="236.2" r="2.0" fill="#7e62b0" opacity="0.9"/>
</g></g>
<rect x="441.0" y="201.3" width="50.10" height="37.10" fill="none" stroke="#808080" stroke-width="1"/>
<clipPath id="c9"><rect x="387.8" y="241.2" width="49.70" height="36.90"/></clipPath>
<rect x="387.8" y="241.2" width="49.70" height="36.90" fill="#ffffff"/>
<g clip-path="url(#c9)"><g filter="url(#bl)">
<circle cx="415.9" cy="254.4" r="4.8" fill="url(#gL)" opacity="1.0"/>
<circle cx="431.0" cy="254.0" r="5.5" fill="url(#gL)" opacity="1.0"/>
<circle cx="402.1" cy="263.7" r="4.8" fill="url(#gL)" opacity="1.0"/>
<circle cx="396.8" cy="269.6" r="3.5" fill="url(#gL)" opacity="1.0"/>
<circle cx="415.9" cy="254.6" r="2.0" fill="#8a6aa0" opacity="0.9"/>
<circle cx="433.7" cy="247.2" r="2.4" fill="#7e62b0" opacity="0.9"/>
<circle cx="430.4" cy="251.8" r="2.4" fill="#6a50a0" opacity="0.9"/>
<circle cx="404.1" cy="272.2" r="2.4" fill="#8a70a8" opacity="0.9"/>
<circle cx="413.9" cy="270.9" r="4.8" fill="#5a48a0" opacity="0.9"/>
<circle cx="402.1" cy="263.7" r="3.0" fill="#c8a8d0" opacity="0.9"/>
</g></g>
<rect x="387.8" y="241.2" width="49.70" height="36.90" fill="none" stroke="#808080" stroke-width="1"/>
<clipPath id="c10"><rect x="441.0" y="241.2" width="50.10" height="36.90"/></clipPath>
<rect x="441.0" y="241.2" width="50.10" height="36.90" fill="#ffffff"/>
<g clip-path="url(#c10)"><g filter="url(#bl)">
<circle cx="476.8" cy="245.9" r="5.0" fill="#a8a0d8" opacity="0.9"/>
<circle cx="484.0" cy="263.0" r="5.0" fill="#9c98d8" opacity="0.9"/>
<circle cx="455.1" cy="244.6" r="1.5" fill="#3a2a44" opacity="0.9"/>
<circle cx="452.5" cy="250.5" r="1.5" fill="#3a2a44" opacity="0.9"/>
<circle cx="447.9" cy="251.2" r="2.0" fill="#9a7070" opacity="0.9"/>
<circle cx="459.7" cy="251.2" r="2.0" fill="#3a2a44" opacity="0.9"/>
<circle cx="466.3" cy="250.5" r="2.0" fill="#c89880" opacity="0.9"/>
<circle cx="481.4" cy="243.3" r="1.5" fill="#3a2a44" opacity="0.9"/>
<circle cx="480.1" cy="248.5" r="1.5" fill="#3a2a44" opacity="0.9"/>
<circle cx="488.7" cy="247.2" r="2.0" fill="#b08070" opacity="0.9"/>
<circle cx="483.4" cy="252.5" r="1.5" fill="#3a2a44" opacity="0.9"/>
<circle cx="443.3" cy="256.4" r="3.0" fill="#b0a0d0" opacity="0.9"/>
<circle cx="455.1" cy="257.1" r="2.0" fill="#9a8a90" opacity="0.9"/>
<circle cx="465.6" cy="259.1" r="2.0" fill="#d89070" opacity="0.9"/>
<circle cx="475.5" cy="257.7" r="2.0" fill="#3a2a44" opacity="0.9"/>
<circle cx="488.0" cy="266.3" r="1.5" fill="#3a2a44" opacity="0.9"/>
<circle cx="449.8" cy="265.0" r="3.0" fill="#7068c0" opacity="0.9"/>
<circle cx="454.4" cy="268.9" r="3.5" fill="#a898d0" opacity="0.9"/>
<circle cx="466.3" cy="267.6" r="2.5" fill="#d8a098" opacity="0.9"/>
<circle cx="474.8" cy="269.6" r="1.5" fill="#3a2a44" opacity="0.9"/>
<circle cx="444.6" cy="271.6" r="1.5" fill="#3a2a44" opacity="0.9"/>
<circle cx="470.9" cy="274.8" r="2.0" fill="#a07060" opacity="0.9"/>
<circle cx="486.0" cy="273.5" r="3.0" fill="#b098c8" opacity="0.9"/>
</g></g>
<rect x="441.0" y="241.2" width="50.10" height="36.90" fill="none" stroke="#808080" stroke-width="1"/>
<clipPath id="c11"><rect x="387.8" y="280.9" width="49.70" height="36.40"/></clipPath>
<rect x="387.8" y="280.9" width="49.70" height="36.40" fill="#ffffff"/>
<g clip-path="url(#c11)"><g filter="url(#bl)">
<ellipse cx="414" cy="302" rx="7" ry="17" transform="rotate(-48 414 302)" fill="#e6def2" opacity="0.95"/>
<ellipse cx="404.5" cy="296" rx="4.2" ry="7.5" transform="rotate(-25 404.5 296)" fill="#c4aee0" opacity="0.9"/>
<circle cx="417.8" cy="303.7" r="6.5" fill="url(#gL)" opacity="1.0"/>
<circle cx="404.0" cy="295.0" r="2.6" fill="#9a80c8" opacity="0.9"/>
<circle cx="412.0" cy="299.2" r="3.0" fill="#8a70b8" opacity="0.9"/>
<circle cx="408.1" cy="306.9" r="2.0" fill="#6a5090" opacity="0.9"/>
<circle cx="418.4" cy="310.1" r="3.5" fill="#8a60b0" opacity="0.9"/>
<circle cx="426.1" cy="308.8" r="3.0" fill="#a070b0" opacity="0.9"/>
<circle cx="421.6" cy="305.6" r="1.5" fill="#1a1020" opacity="0.9"/>
<circle cx="437.0" cy="288.3" r="1.2" fill="#3a2a44" opacity="0.9"/>
</g></g>
<rect x="387.8" y="280.9" width="49.70" height="36.40" fill="none" stroke="#808080" stroke-width="1"/>
<clipPath id="c12"><rect x="441.0" y="280.9" width="50.10" height="36.40"/></clipPath>
<rect x="441.0" y="280.9" width="50.10" height="36.40" fill="#ffffff"/>
<g clip-path="url(#c12)"><g filter="url(#bl)">
<circle cx="447.0" cy="283.8" r="1.5" fill="#3a2a44" opacity="0.9"/>
<circle cx="466.3" cy="285.1" r="2.0" fill="#3a2a44" opacity="0.9"/>
<circle cx="476.6" cy="284.4" r="2.0" fill="#3a2a44" opacity="0.9"/>
<circle cx="486.8" cy="286.4" r="1.5" fill="#3a2a44" opacity="0.9"/>
<circle cx="453.4" cy="291.5" r="4.0" fill="#d89068" opacity="0.9"/>
<circle cx="457.3" cy="287.6" r="2.5" fill="#2c2c5a" opacity="0.9"/>
<circle cx="472.7" cy="289.6" r="2.5" fill="#3a2a44" opacity="0.9"/>
<circle cx="485.6" cy="292.1" r="4.0" fill="#e0a080" opacity="0.9"/>
<circle cx="468.2" cy="294.7" r="2.0" fill="#c89888" opacity="0.9"/>
<circle cx="473.3" cy="297.3" r="2.0" fill="#e0c0b8" opacity="0.9"/>
<circle cx="454.7" cy="299.2" r="3.0" fill="#8a88c8" opacity="0.9"/>
<circle cx="465.0" cy="299.9" r="2.0" fill="#6a4036" opacity="0.9"/>
<circle cx="471.4" cy="301.1" r="2.5" fill="#2c2c5a" opacity="0.9"/>
<circle cx="484.3" cy="302.4" r="2.5" fill="#e0b098" opacity="0.9"/>
<circle cx="441.9" cy="305.0" r="2.0" fill="#3a2a44" opacity="0.9"/>
<circle cx="456.6" cy="306.9" r="2.0" fill="#3a2a44" opacity="0.9"/>
<circle cx="466.3" cy="305.6" r="2.5" fill="#3a2a44" opacity="0.9"/>
<circle cx="470.1" cy="308.8" r="2.5" fill="#3a2a44" opacity="0.9"/>
<circle cx="448.9" cy="310.1" r="2.0" fill="#e0b8b0" opacity="0.9"/>
<circle cx="483.0" cy="311.4" r="2.0" fill="#3a2a44" opacity="0.9"/>
<circle cx="477.8" cy="314.0" r="2.5" fill="#3a2a44" opacity="0.9"/>
<circle cx="456.6" cy="315.9" r="2.0" fill="#c8a0a0" opacity="0.9"/>
</g></g>
<rect x="441.0" y="280.9" width="50.10" height="36.40" fill="none" stroke="#808080" stroke-width="1"/>
</svg>
</body></html>
